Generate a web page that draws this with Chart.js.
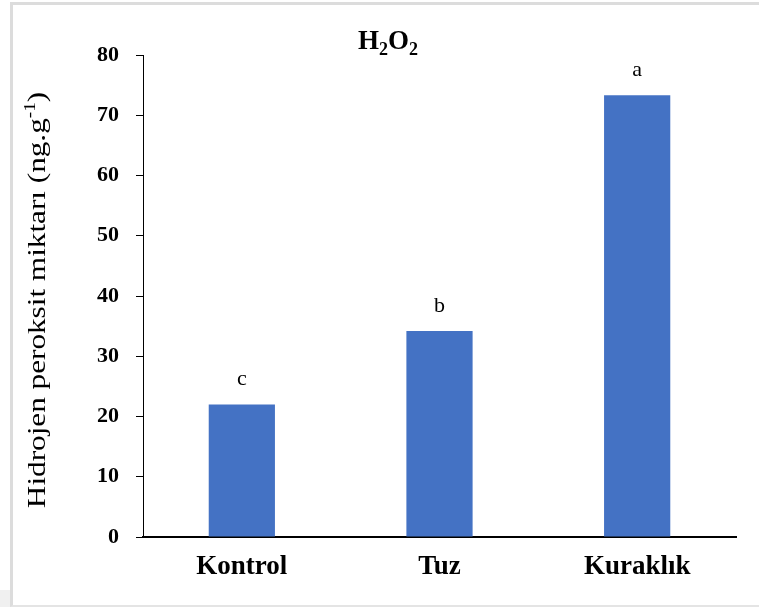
<!DOCTYPE html>
<html>
<head>
<meta charset="utf-8">
<script src="https://cdn.jsdelivr.net/npm/chart.js@4.4.0/dist/chart.umd.min.js"></script>
<style>
  html, body { margin: 0; padding: 0; background: #fff; }
  #wrap { position: relative; width: 759px; height: 607px; overflow: hidden; }
  #frame {
    position: absolute; left: 10px; top: 2px; right: -5px; bottom: 0px;
    border-left: 3px solid #dcdcdc; border-top: 3px solid #dcdcdc; border-bottom: 2px solid #e4e4e4;
    pointer-events: none;
  }
  #shade { position: absolute; left: 0; top: 590px; width: 10px; height: 17px; background: #f0f0f0; }
  canvas { position: absolute; left: 0; top: 0; }
</style>
</head>
<body>
<div id="wrap">
  <canvas id="h2o2Chart" width="759" height="607"></canvas>
  <div id="shade"></div>
  <div id="frame"></div>
</div>
<script>
// data
const categories = ['Kontrol', 'Tuz', 'Kuraklık'];
const values = [22.0, 34.2, 73.3];
const letters = ['c', 'b', 'a'];
const yTicks = [0, 10, 20, 30, 40, 50, 60, 70, 80];

const serif = '"Liberation Serif", "Times New Roman", serif';

// title H2O2 with subscripts
const titlePlugin = {
  id: 'subTitle',
  afterDraw(chart) {
    const ctx = chart.ctx;
    const big = 'bold 27px ' + serif;
    const small = 'bold 18px ' + serif;
    const parts = [['H', big, 0], ['2', small, 6], ['O', big, 0], ['2', small, 6]];
    let w = 0;
    parts.forEach(p => { ctx.font = p[1]; w += ctx.measureText(p[0]).width; });
    let x = 388 - w / 2;
    const y = 49;
    ctx.save();
    ctx.fillStyle = '#000';
    ctx.textBaseline = 'alphabetic';
    parts.forEach(p => {
      ctx.font = p[1];
      ctx.fillText(p[0], x, y + p[2]);
      x += ctx.measureText(p[0]).width;
    });
    ctx.restore();
  }
};

// rotated y axis title with superscript -1
const yTitlePlugin = {
  id: 'yTitle',
  afterDraw(chart) {
    const ctx = chart.ctx;
    const main = '26px ' + serif;
    const sup = '16px ' + serif;
    const parts = [['Hidrojen peroksit miktarı (ng.g', main, 0], ['-1', sup, -10], [')', main, 0]];
    ctx.save();
    ctx.translate(45, 300);
    ctx.rotate(-Math.PI / 2);
    ctx.scale(1.2, 1);
    ctx.fillStyle = '#000';
    ctx.textBaseline = 'alphabetic';
    let w = 0;
    parts.forEach(p => { ctx.font = p[1]; w += ctx.measureText(p[0]).width; });
    let x = -w / 2;
    parts.forEach(p => {
      ctx.font = p[1];
      ctx.fillText(p[0], x, p[2]);
      x += ctx.measureText(p[0]).width;
    });
    ctx.restore();
  }
};

// significance letters above bars
const letterPlugin = {
  id: 'barLetters',
  afterDatasetsDraw(chart) {
    const ctx = chart.ctx;
    const meta = chart.getDatasetMeta(0);
    ctx.save();
    ctx.font = '22px ' + serif;
    ctx.fillStyle = '#000';
    ctx.textAlign = 'center';
    ctx.textBaseline = 'alphabetic';
    meta.data.forEach((bar, i) => {
      ctx.fillText(letters[i], bar.x, bar.y - 19);
    });
    ctx.restore();
  }
};

const ctx = document.getElementById('h2o2Chart').getContext('2d');
new Chart(ctx, {
  type: 'bar',
  data: {
    labels: categories,
    datasets: [{
      data: values,
      backgroundColor: '#4472C4',
      borderWidth: 0,
      barPercentage: 0.335,
      categoryPercentage: 1.0
    }]
  },
  options: {
    responsive: false,
    animation: false,
    layout: { padding: { top: 55, right: 23, bottom: 0, left: 0 } },
    plugins: {
      legend: { display: false },
      tooltip: { enabled: false }
    },
    scales: {
      x: {
        grid: { drawOnChartArea: false, drawTicks: false },
        border: { display: true, color: '#000', width: 2 },
        ticks: {
          color: '#000',
          padding: 14,
          font: { family: serif, size: 27, weight: 'bold' }
        },
        afterFit(scale) { scale.height = 70; }
      },
      y: {
        min: 0,
        max: 80,
        afterBuildTicks(scale) { scale.ticks = yTicks.map(v => ({ value: v })); },
        grid: { drawOnChartArea: false, drawTicks: true, tickLength: 7, color: '#000' },
        border: { display: true, color: '#000', width: 1 },
        ticks: {
          color: '#000',
          padding: 17,
          font: { family: serif, size: 22, weight: 'bold' }
        },
        afterFit(scale) { scale.width = 143; }
      }
    }
  },
  plugins: [titlePlugin, yTitlePlugin, letterPlugin]
});
</script>
</body>
</html>
